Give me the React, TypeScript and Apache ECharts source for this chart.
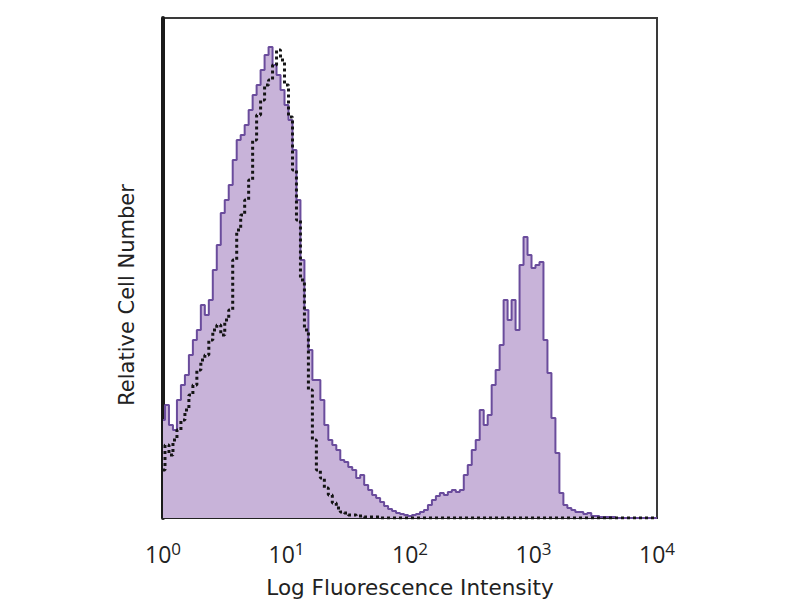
import React, { useEffect, useRef } from "react";
import * as echarts from "echarts";

// Histogram bins: 125 channels spanning 4 decades (31 bins per decade)
const BINS_PER_DECADE = 31;
const DECADE_LABELS = ["0", "1", "2", "3", "4"];

// Stained sample (filled purple), relative counts 0-100
const stained = [
  19.6, 22.6, 18.6, 17.6, 23.6, 26.6, 28.6, 32.6, 35.6, 37.6,
  42.6, 40.6, 43.6, 49.6, 54.6, 61, 63.6, 66.6, 71.6, 75.6,
  76.6, 78.6, 81.6, 84.6, 86.6, 89.6, 92.6, 94.2, 90.6, 88.6,
  85.6, 82.6, 79.6, 73.6, 63.6, 51.6, 41.6, 33.6, 27.6, 27.6,
  23.6, 18.6, 15.6, 14.6, 13.6, 11.6, 11.2, 10.2, 9.6, 8,
  8.6, 6.6, 5.6, 4.6, 4, 3.2, 2.4, 1.8, 1.4, 1,
  0.8, 0.6, 0.4, 0.6, 0.8, 1.2, 1.6, 2.6, 3.6, 4.4,
  5, 4.6, 5.2, 5.6, 5.2, 5.6, 8.6, 10.6, 13.6, 15.6,
  21.6, 18.6, 20.6, 26.6, 29.6, 34.6, 43.6, 39.6, 43.6, 37.6,
  50.6, 56.2, 52.6, 50, 50.6, 51.2, 35.6, 29, 20, 13,
  5, 2.6, 2, 1.6, 1.2, 1.2, 0.8, 1, 0.4, 0.4,
  0.2, 0.2, 0.2, 0.2, 0, 0, 0, 0, 0, 0,
  0, 0, 0, 0, 0,
];

// Isotype control (black dotted), relative counts 0-100
const control = [
  9.6, 14.6, 12.6, 15.6, 17.6, 19.6, 21.6, 24.6, 26.6, 29.6,
  31.6, 32.6, 35.6, 37.6, 38.6, 36.6, 39.6, 41.6, 51.6, 57.6,
  60.6, 63.6, 67.6, 75.6, 80.6, 83.6, 86.6, 87.6, 90.6, 93.6,
  91.6, 86.6, 80.2, 69.6, 59.6, 47.6, 37.6, 25.6, 15.6, 9.6,
  8, 6, 4.6, 3, 2, 1.2, 1, 0.6, 0.6, 0.4,
  0.4, 0.2, 0.2, 0.2, 0.2, 0, 0, 0, 0, 0,
  0, 0, 0, 0, 0, 0, 0, 0, 0, 0,
  0, 0, 0, 0, 0, 0, 0, 0, 0, 0,
  0, 0, 0, 0, 0, 0, 0, 0, 0, 0,
  0, 0, 0, 0, 0, 0, 0, 0, 0, 0,
  0, 0, 0, 0, 0, 0, 0, 0, 0, 0,
  0, 0, 0, 0, 0, 0, 0, 0, 0, 0,
  0, 0, 0, 0, 0,
];

const channels = stained.map((_, i) => String(i));

export default function App() {
  const ref = useRef<HTMLDivElement>(null);
  useEffect(() => {
    if (!ref.current) return;
    const chart = echarts.init(ref.current, undefined, { renderer: "svg" });
    const font = "Open Sans";
    const nameFont = "DejaVu Sans";
    chart.setOption({
      animation: false,
      backgroundColor: "#ffffff",
      grid: {
        left: 155,
        right: 135,
        top: 10,
        bottom: 82,
        outerBoundsMode: "none",
        containLabel: false,
        show: true,
        borderColor: "#3a3a3a",
        borderWidth: 2,
        backgroundColor: "transparent",
      },
      xAxis: {
        type: "category",
        data: channels,
        boundaryGap: false,
        name: "Log Fluorescence Intensity",
        nameLocation: "middle",
        nameGap: 58,
        nameTextStyle: { fontFamily: nameFont, fontSize: 21.5, color: "#222" },
        axisLine: { lineStyle: { color: "#222", width: 2 } },
        axisTick: { show: false },
        splitLine: { show: false },
        axisLabel: {
          interval: (index: number) => index % BINS_PER_DECADE === 0,
          showMaxLabel: true,
          margin: 22,
          formatter: (_v: string, index: number) =>
            `{b|10}{s|${DECADE_LABELS[Math.round(index / BINS_PER_DECADE)]}}`,
          rich: {
            b: { fontFamily: font, fontSize: 23, color: "#222", lineHeight: 28 },
            s: {
              fontFamily: font,
              fontSize: 17,
              color: "#222",
              lineHeight: 28,
              verticalAlign: "top",
              padding: [0, 0, 12, 0],
            },
          },
        },
      },
      yAxis: {
        type: "value",
        min: 0,
        max: 100,
        name: "Relative Cell Number",
        nameLocation: "middle",
        nameGap: 26,
        nameRotate: 90,
        nameTextStyle: {
          fontFamily: nameFont,
          fontSize: 21,
          color: "#222",
          padding: [0, 54, 0, 0],
        },
        axisLine: { show: true, lineStyle: { color: "#1a1a1a", width: 4 } },
        axisTick: { show: false },
        axisLabel: { show: false },
        splitLine: { show: false },
      },
      series: [
        {
          name: "Stained",
          type: "line",
          step: "middle",
          data: stained,
          symbol: "none",
          lineStyle: { color: "#6a4c9c", width: 2 },
          areaStyle: { color: "#c8b3d9", opacity: 1 },
          z: 2,
        },
        {
          name: "Isotype",
          type: "line",
          step: "middle",
          data: control,
          symbol: "none",
          lineStyle: { color: "#141414", width: 3, type: "dotted" },
          z: 3,
        },
      ],
    });
    return () => chart.dispose();
  }, []);
  return <div ref={ref} style={{ width: 784, height: 592 }} />;
}
